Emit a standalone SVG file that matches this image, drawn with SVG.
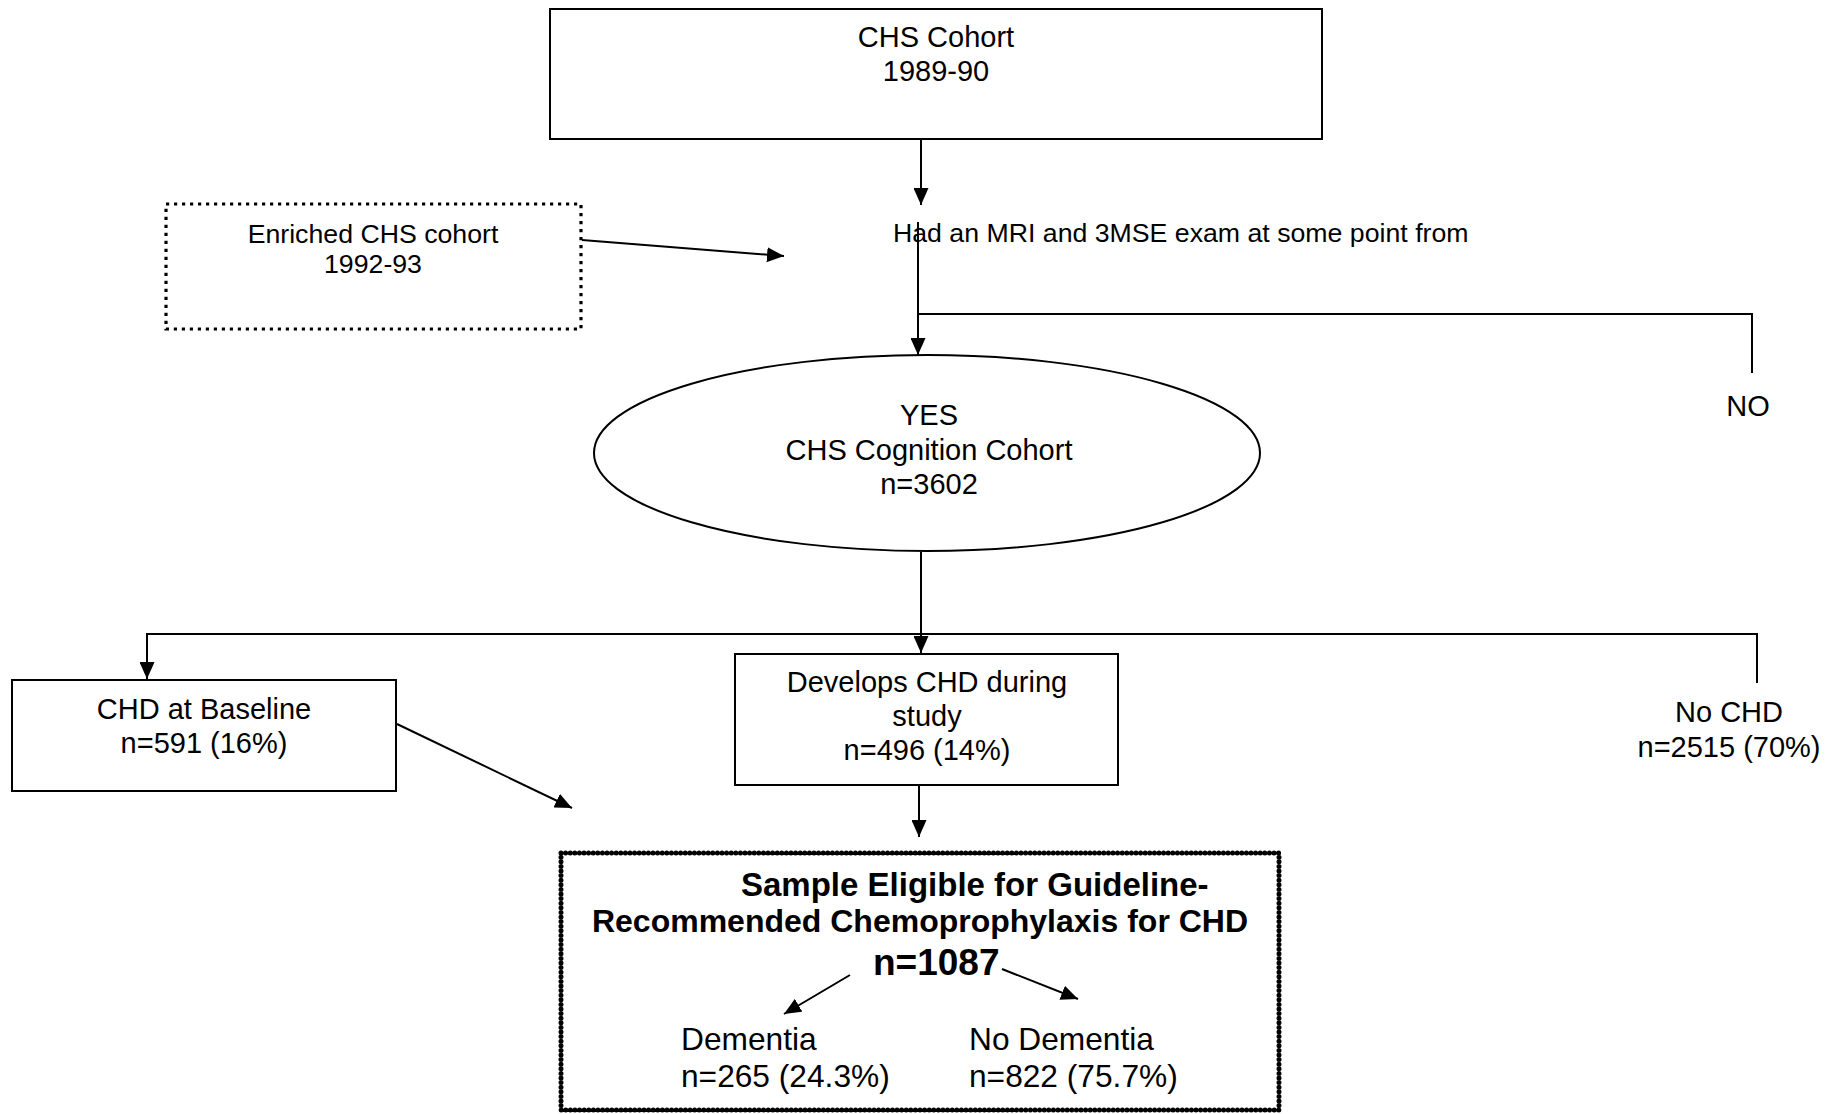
<svg xmlns="http://www.w3.org/2000/svg" width="1842" height="1114" viewBox="0 0 1842 1114">
<style>
text{font-family:"Liberation Sans",Arial,sans-serif;fill:#000}
.t{font-size:29px}
.c{text-anchor:middle}
.s{font-size:26.7px}
.b{font-weight:bold}
.box{fill:#fff;stroke:#000;stroke-width:2}
.con{fill:none;stroke:#000;stroke-width:2}
</style>
<defs>
<marker id="ah" markerWidth="17" markerHeight="15" refX="17" refY="7.5" orient="auto" markerUnits="userSpaceOnUse"><path d="M0,0 L17,7.5 L0,15 z" fill="#000"/></marker>
</defs>
<rect width="1842" height="1114" fill="#fff"/>
<g id="connectors">
<line class="con" x1="921" y1="139" x2="921" y2="205" marker-end="url(#ah)"/>
<line class="con" x1="582" y1="240" x2="784" y2="256" marker-end="url(#ah)"/>
<line class="con" x1="918" y1="222" x2="918" y2="355" marker-end="url(#ah)"/>
<polyline class="con" points="918,314 1752,314 1752,373"/>
<line class="con" x1="921" y1="552" x2="921" y2="653" marker-end="url(#ah)"/>
<polyline class="con" points="1757,683 1757,634 147,634 147,679" stroke="#333" stroke-width="2.5" marker-end="url(#ah)"/>
<line class="con" x1="397" y1="724" x2="572" y2="808" marker-end="url(#ah)"/>
<line class="con" x1="919" y1="785" x2="919" y2="837" marker-end="url(#ah)"/>
<line class="con" x1="850" y1="975" x2="784" y2="1014" marker-end="url(#ah)"/>
<line class="con" x1="1002" y1="969" x2="1078" y2="999" marker-end="url(#ah)"/>
</g>
<g id="chs-cohort">
<rect class="box" x="550" y="9" width="772" height="130"/>
<text class="t c" x="936" y="47">CHS Cohort</text>
<text class="t c" x="936" y="81">1989-90</text>
</g>
<g id="enriched">
<rect x="166" y="204" width="415" height="125" fill="#fff" stroke="#000" stroke-width="3.2" stroke-dasharray="3.2 4.8"/>
<text class="s c" x="373" y="243">Enriched CHS cohort</text>
<text class="s c" x="373" y="273">1992-93</text>
</g>
<g id="mri-question">
<text class="s" x="893" y="242">Had an MRI and 3MSE exam at some point from</text>
</g>
<g id="no">
<text class="t c" x="1748" y="416">NO</text>
</g>
<g id="cognition-cohort">
<ellipse class="box" cx="927" cy="453" rx="333" ry="98"/>
<text class="t c" x="929" y="425">YES</text>
<text class="t c" x="929" y="460">CHS Cognition Cohort</text>
<text class="t c" x="929" y="494">n=3602</text>
</g>
<g id="chd-baseline">
<rect class="box" x="12" y="680" width="384" height="111"/>
<text class="t c" x="204" y="719">CHD at Baseline</text>
<text class="t c" x="204" y="753">n=591 (16%)</text>
</g>
<g id="develops-chd">
<rect class="box" x="735" y="654" width="383" height="131"/>
<text class="t c" x="927" y="692">Develops CHD during</text>
<text class="t c" x="927" y="726">study</text>
<text class="t c" x="927" y="760">n=496 (14%)</text>
</g>
<g id="no-chd">
<text class="t c" x="1729" y="722">No CHD</text>
<text class="t c" x="1729" y="757">n=2515 (70%)</text>
</g>
<g id="sample">
<rect x="561" y="853" width="718" height="257" fill="none" stroke="#000" stroke-width="5" stroke-dasharray="0 4.6" stroke-linecap="round"/>
<text class="b" x="741" y="896" font-size="33px">Sample Eligible for Guideline-</text>
<text class="b c" x="920" y="932" font-size="32px">Recommended Chemoprophylaxis for CHD</text>
<text class="b" x="873" y="975" font-size="37px">n=1087</text>
<text x="681" y="1050" font-size="31.7px">Dementia</text>
<text x="681" y="1087" font-size="31.7px">n=265 (24.3%)</text>
<text x="969" y="1050" font-size="31.7px">No Dementia</text>
<text x="969" y="1087" font-size="31.7px">n=822 (75.7%)</text>
</g>
</svg>
